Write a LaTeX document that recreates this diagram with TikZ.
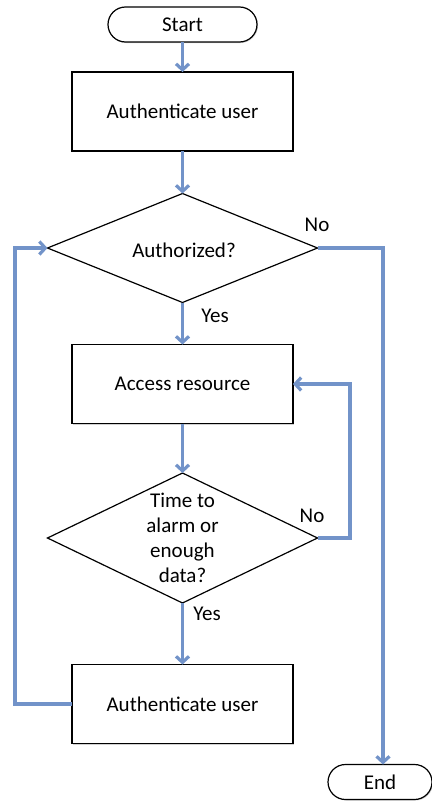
\documentclass[tikz,border=0pt]{standalone}
\usepackage{fontspec}
\setmainfont{Carlito}
\usetikzlibrary{arrows.meta,shapes.geometric,shadows}
\definecolor{flowblue}{RGB}{114,147,201}

\begin{document}
\begin{tikzpicture}[x=1pt,y=-1pt,
  txt/.style={font=\fontsize{21}{25}\selectfont},
  shade/.style={drop shadow={shadow xshift=1pt,shadow yshift=-1pt,opacity=0.3,fill=black!60}},
  term/.style={txt,draw,line width=1.2pt,fill=white,rounded corners=17.5pt,
    minimum width=149pt,minimum height=35pt,inner sep=0pt,outer sep=0pt,shade},
  box/.style={txt,draw,line width=1.2pt,fill=white,minimum width=221pt,
    minimum height=79pt,inner sep=0pt,outer sep=0pt,shade},
  decision/.style={diamond,draw,line width=1.2pt,fill=white,minimum width=270pt,
    inner sep=0pt,outer sep=0pt},
  lbl/.style={txt,inner sep=0pt},
  flow/.style={draw=flowblue,line width=3.2pt,
    -{Straight Barb[length=6pt,width=13pt]}},
]
\useasboundingbox (0,0) rectangle (431,803);

% process nodes
\node[term] (start) at (182.5,24.5) {Start};
\node[box] (auth1) at (182.5,111.5) {Authenticate user};
\node[decision,minimum height=109pt] (d1) at (182.5,248) {};
\node[lbl] (d1text) at (184,250) {Authorized?};
\node[box] (access) at (182.5,384) {Access resource};
\node[decision,minimum height=130pt] (d2) at (182.5,538) {};
\node[lbl,align=center] (d2text) at (d2.center) {Time to\\alarm or\\enough\\data?};
\node[box] (auth2) at (182.5,704) {Authenticate user};
\node[term,minimum width=104pt] (end) at (380,782) {End};

% routing columns
\coordinate (rc) at (383,0);
\coordinate (lc) at (15,0);
\coordinate (lp) at (350,0);

% main flow
\draw[flow] (start) -- (auth1);
\draw[flow] (auth1) -- (d1);
\draw[flow] (d1) -- (access);
\draw[flow] (access) -- (d2);
\draw[flow] (d2) -- (auth2);

% loops and exit
\draw[flow] (d2.east) -- (d2.east -| lp) -- (lp |- access.east) -- (access.east);
\draw[flow] (auth2.west) -- (auth2.west -| lc) -- (lc |- d1.west) -- (d1.west);
\draw[flow] (d1.east) -- (d1.east -| rc) -- (rc |- end.north);

% branch labels
\node[lbl] (no1) at (317,225) {No};
\node[lbl] (yes1) at (215,316) {Yes};
\node[lbl] (no2) at (312,516) {No};
\node[lbl] (yes2) at (207,614) {Yes};
\end{tikzpicture}
\end{document}
